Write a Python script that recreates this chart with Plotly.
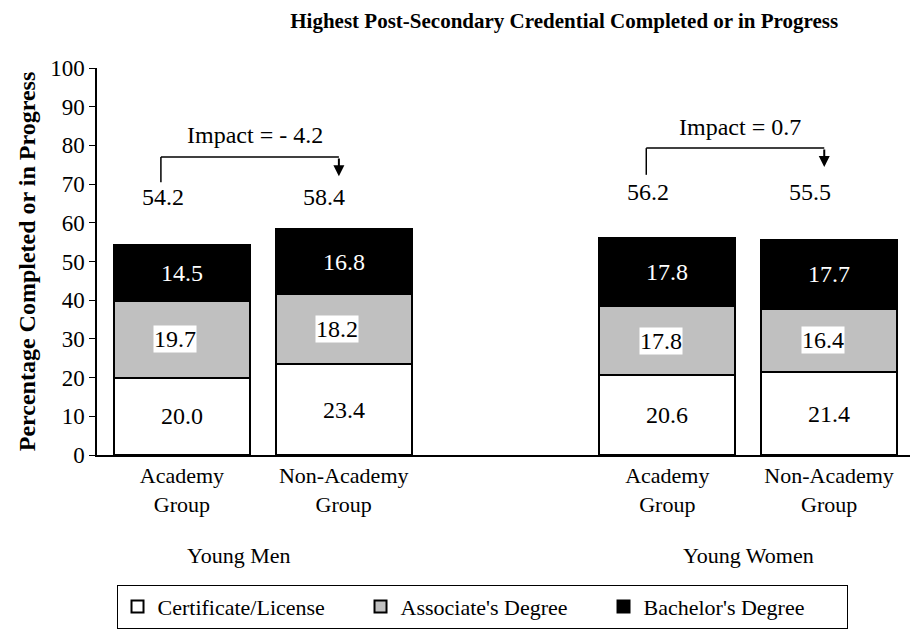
import plotly.graph_objects as go

# data
bar_x = [0, 1, 3, 4]
bar_labels = ["Academy<br>Group", "Non-Academy<br>Group", "Academy<br>Group", "Non-Academy<br>Group"]
groups = ["Young Men", "Young Women"]
group_x = [0.35, 3.5]
certificate = [20.0, 23.4, 20.6, 21.4]
associate = [19.7, 18.2, 17.8, 16.4]
bachelor = [14.5, 16.8, 17.8, 17.7]
totals = [54.2, 58.4, 56.2, 55.5]

FONT = "Times New Roman, Liberation Serif, serif"
WIDTH = 0.84
LBL = 24

fig = go.Figure()

series = [
    ("Certificate/License", certificate, "white"),
    ("Associate's Degree", associate, "#C0C0C0"),
    ("Bachelor's Degree", bachelor, "black"),
]
for name, vals, col in series:
    fig.add_trace(go.Bar(
        x=bar_x, y=vals, name=name, width=WIDTH,
        marker=dict(color=col, line=dict(color="black", width=2)),
        hoverinfo="skip",
    ))

# segment labels
for i, x in enumerate(bar_x):
    c, a, b = certificate[i], associate[i], bachelor[i]
    fig.add_annotation(x=x, y=c / 2, text=f"{c:.1f}", showarrow=False,
                       font=dict(size=LBL, color="black"))
    fig.add_annotation(x=x - 0.04, y=c + a / 2, text=f"{a:.1f}", showarrow=False,
                       font=dict(size=LBL, color="black"), bgcolor="white", borderpad=0)
    fig.add_annotation(x=x, y=c + a + b / 2, text=f"{b:.1f}", showarrow=False,
                       font=dict(size=LBL, color="white"))

# totals and impact brackets
label_y = [66.7, 66.7, 68.0, 68.0]
for i, x in enumerate(bar_x):
    fig.add_annotation(x=x - 0.12, y=label_y[i], text=f"{totals[i]:.1f}",
                       showarrow=False, font=dict(size=LBL, color="black"))

brackets = [  # (left bar idx, right bar idx, top y, low y, arrow tip y, text y)
    (0, 1, 77.0, 70.5, 72.0, 82.7),
    (2, 3, 79.3, 72.4, 74.4, 84.8),
]
for li, ri, top, low, tip, ty in brackets:
    xl = bar_x[li] - 0.13
    xr = bar_x[ri] - 0.03
    fig.add_shape(type="line", x0=xl, x1=xl, y0=low, y1=top,
                  line=dict(color="black", width=1.5))
    fig.add_shape(type="line", x0=xl, x1=xr, y0=top, y1=top,
                  line=dict(color="black", width=1.5))
    fig.add_annotation(x=xr, y=tip, ax=xr, ay=top, axref="x", ayref="y",
                       text="", showarrow=True, arrowhead=2, arrowsize=1.1,
                       arrowwidth=2, arrowcolor="black")
    impact = totals[li] - totals[ri]
    txt = f"Impact = - {abs(impact):.1f}" if impact < 0 else f"Impact = {impact:.1f}"
    fig.add_annotation(x=(xl + xr) / 2 + 0.03, y=ty, text=txt, showarrow=False,
                       font=dict(size=LBL, color="black"))

# group labels
for g, gx in zip(groups, group_x):
    fig.add_annotation(x=gx, y=0, yref="y", yshift=-100, text=g, showarrow=False,
                       font=dict(size=22, color="black"))

fig.update_layout(
    barmode="stack",
    width=910, height=632,
    paper_bgcolor="white", plot_bgcolor="white",
    font=dict(family=FONT, color="black", size=22),
    margin=dict(l=97, r=0, t=68, b=177),
    title=dict(text="<b>Highest Post-Secondary Credential Completed or in Progress</b>",
               x=0.62, xanchor="center", y=0.968, yanchor="middle",
               font=dict(size=21, family=FONT, color="black")),
    xaxis=dict(range=[-0.525, 4.5], tickvals=bar_x, ticktext=bar_labels,
               showline=True, linecolor="black", linewidth=1.5,
               ticks="", showgrid=False, zeroline=False,
               tickfont=dict(size=22)),
    yaxis=dict(range=[0, 100], dtick=10, showline=True, linecolor="black",
               linewidth=1.5, ticks="outside", ticklen=6, tickcolor="black",
               showgrid=False, zeroline=False, tickfont=dict(size=23),
               title=dict(text="<b>Percentage Completed or in Progress</b>",
                          font=dict(size=24), standoff=8)),
    legend=dict(orientation="h", x=0.024, xanchor="left", y=-0.335, yanchor="top",
                bordercolor="black", borderwidth=1, font=dict(size=22),
                traceorder="normal", itemwidth=30, entrywidth=198,
                itemclick=False),
    showlegend=True,
)

fig.write_html("out.html", config={"displayModeBar": False},
               post_script="document.body.style.margin='0';")
